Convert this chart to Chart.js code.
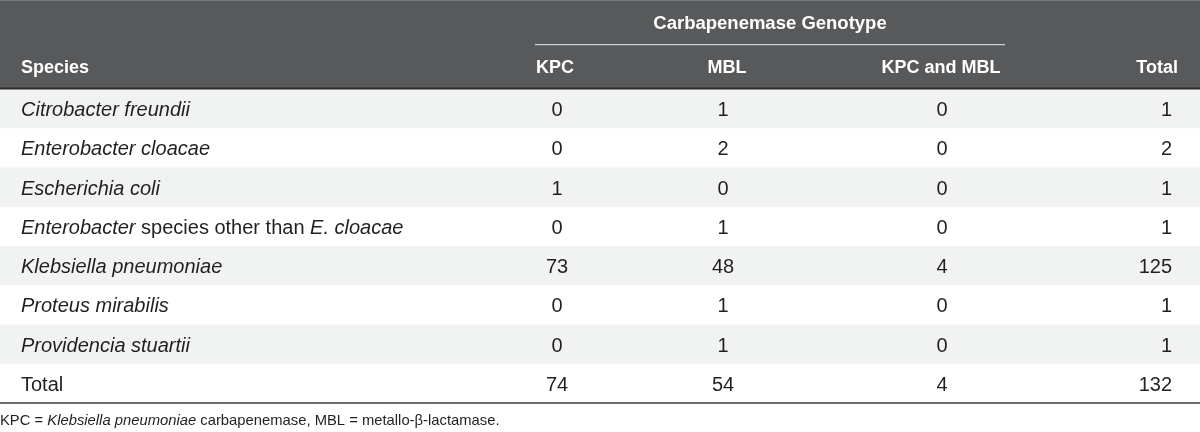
<!DOCTYPE html>
<html>
<head>
<meta charset="utf-8">
<script src="https://cdn.jsdelivr.net/npm/chart.js@4.4.1/dist/chart.umd.min.js"></script>
<style>
  html, body { margin: 0; padding: 0; background: #fff; }
  #wrap { width: 1200px; height: 432px; position: relative; }
</style>
</head>
<body>
<div id="wrap"><canvas id="tableChart"></canvas></div>
<script>
// table content (text between * * is set in italics)
const groupTitle = 'Carbapenemase Genotype';
const columnHeads = ['Species', 'KPC', 'MBL', 'KPC and MBL', 'Total'];
const species = [
    '*Citrobacter freundii*',
    '*Enterobacter cloacae*',
    '*Escherichia coli*',
    '*Enterobacter* species other than *E. cloacae*',
    '*Klebsiella pneumoniae*',
    '*Proteus mirabilis*',
    '*Providencia stuartii*',
    'Total'
];
const kpc = [0, 0, 1, 0, 73, 0, 0, 74];
const mbl = [1, 2, 0, 1, 48, 1, 1, 54];
const kpcAndMbl = [0, 0, 0, 0, 4, 0, 0, 4];
const totals = [1, 2, 1, 1, 125, 1, 1, 132];
const footnote = 'KPC = *Klebsiella pneumoniae* carbapenemase, MBL = metallo-\u03b2-lactamase.';

// layout: column anchors in x-scale units (0..1200)
const colAnchor = [
    { x: 21, head: 21, align: 'left' },
    { x: 557, head: 555, align: 'center' },
    { x: 723, head: 727, align: 'center' },
    { x: 942, head: 941, align: 'center' },
    { x: 1172, head: 1178, align: 'right' }
];
const groupSpan = [535, 1005];

const FONT = '"Liberation Sans", Arial, Helvetica, sans-serif';
const bodyColor = '#231f20';

function segments(str) {
    return str.split('*').map((t, i) => ({ text: t, italic: i % 2 === 1 })).filter(s => s.text.length);
}

function drawRich(ctx, str, x, y, align, size, color) {
    const segs = segments(str);
    let width = 0;
    segs.forEach(s => {
        ctx.font = (s.italic ? 'italic ' : '') + size + 'px ' + FONT;
        s.w = ctx.measureText(s.text).width;
        width += s.w;
    });
    let cx = x;
    if (align === 'center') cx = x - width / 2;
    if (align === 'right') cx = x - width;
    ctx.fillStyle = color;
    ctx.textAlign = 'left';
    ctx.textBaseline = 'middle';
    segs.forEach(s => {
        ctx.font = (s.italic ? 'italic ' : '') + size + 'px ' + FONT;
        ctx.fillText(s.text, cx, y);
        cx += s.w;
    });
}

const tablePlugin = {
    id: 'tablePlugin',
    beforeDraw(chart) {
        const ctx = chart.ctx;
        const area = chart.chartArea;
        const y = chart.scales.y;
        const band = (area.bottom - area.top) / species.length;
        ctx.save();
        ctx.fillStyle = '#fff';
        ctx.fillRect(0, 0, chart.width, chart.height);
        // header block
        ctx.fillStyle = '#58595b';
        ctx.fillRect(0, 0, chart.width, area.top);
        ctx.fillStyle = '#77787b';
        ctx.fillRect(0, 0, chart.width, 1);
        // row stripes
        species.forEach((s, i) => {
            if (i % 2 === 0) {
                const cy = y.getPixelForValue(i);
                ctx.fillStyle = '#f1f2f2';
                ctx.fillRect(area.left, cy - band / 2, area.right - area.left, band);
            }
        });
        // header bottom rule and table bottom rule
        ctx.fillStyle = '#2b2b2b';
        ctx.fillRect(0, area.top - 1.5, chart.width, 2);
        ctx.fillStyle = '#6d6e71';
        ctx.fillRect(0, area.bottom - 1, chart.width, 2);
        ctx.restore();
    },
    afterDraw(chart) {
        const ctx = chart.ctx;
        const x = chart.scales.x;
        const y = chart.scales.y;
        const area = chart.chartArea;
        ctx.save();
        // group title and its underline
        const g0 = x.getPixelForValue(groupSpan[0]);
        const g1 = x.getPixelForValue(groupSpan[1]);
        ctx.fillStyle = '#fff';
        ctx.font = 'bold 18.5px ' + FONT;
        ctx.textAlign = 'center';
        ctx.textBaseline = 'middle';
        ctx.fillText(groupTitle, (g0 + g1) / 2, 24);
        ctx.fillStyle = '#d1d3d4';
        ctx.fillRect(g0, 44, g1 - g0, 1.2);
        // column heads
        ctx.fillStyle = '#fff';
        ctx.font = 'bold 18px ' + FONT;
        columnHeads.forEach((h, c) => {
            const a = colAnchor[c];
            ctx.textAlign = a.align;
            ctx.fillText(h, x.getPixelForValue(a.head), 68);
        });
        // body cells
        const cols = [species, kpc, mbl, kpcAndMbl, totals];
        species.forEach((s, i) => {
            const py = y.getPixelForValue(i) + 2;
            cols.forEach((col, c) => {
                const a = colAnchor[c];
                drawRich(ctx, String(col[i]), x.getPixelForValue(a.x), py, a.align, 20, bodyColor);
            });
        });
        // footnote
        drawRich(ctx, footnote, 0, area.bottom + 18, 'left', 14.8, bodyColor);
        ctx.restore();
    }
};

new Chart(document.getElementById('tableChart'), {
    type: 'bar',
    data: {
        labels: species,
        datasets: [{ data: [], backgroundColor: 'transparent' }]
    },
    options: {
        responsive: true,
        maintainAspectRatio: false,
        animation: false,
        indexAxis: 'y',
        layout: { padding: { top: 89, bottom: 29, left: 0, right: 0 } },
        plugins: { legend: { display: false }, tooltip: { enabled: false } },
        scales: {
            x: { type: 'linear', min: 0, max: 1200, display: false },
            y: { type: 'category', labels: species, offset: true, display: false }
        }
    },
    plugins: [tablePlugin]
});
</script>
</body>
</html>
